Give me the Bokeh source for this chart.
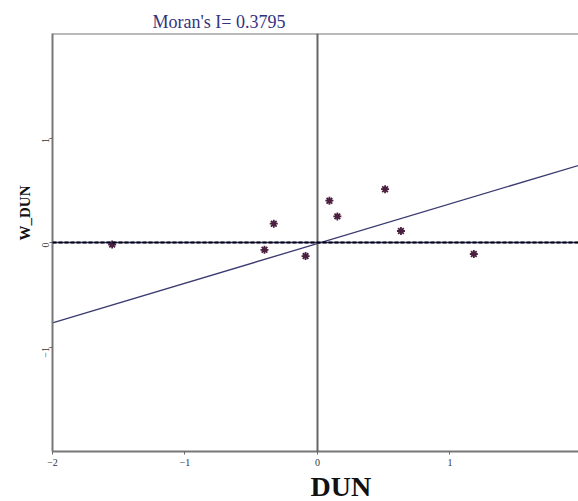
import math
from bokeh.plotting import figure
from bokeh.models import Range1d, Span, FixedTicker, Title
from bokeh.embed import file_html
from bokeh.resources import INLINE

# ---- data ----
dun = [-1.55, -0.33, -0.40, -0.09, 0.09, 0.15, 0.51, 0.63, 1.18]
w_dun = [-0.02, 0.18, -0.07, -0.13, 0.40, 0.25, 0.51, 0.11, -0.11]
moran_i = 0.3795
intercept = -0.01
x_ticks = [-2, -1, 0, 1, 2]
y_ticks = [-1, 0, 1]
title_text = "Moran's I= 0.3795"
x_label = "DUN"
y_label = "W_DUN"

p = figure(frame_width=526, frame_height=418, output_backend="svg", toolbar_location=None,
           x_range=Range1d(-2, 1.97), y_range=Range1d(-2, 2),
           min_border_left=52, min_border_right=0, min_border_top=33, min_border_bottom=20,
           title=Title(text=title_text, align="left", offset=100, standoff=3,
                       text_font="Liberation Serif", text_font_size="18px",
                       text_font_style="normal", text_color="#333380"))
p.outline_line_color = None
p.background_fill_color = "white"
p.border_fill_color = "white"
p.xgrid.visible = False
p.ygrid.visible = False

for ax in (p.xaxis[0], p.yaxis[0]):
    ax.axis_line_color = "#777777"
    ax.axis_line_width = 2
    ax.major_tick_line_color = "#666666"
    ax.major_tick_out = 3
    ax.major_tick_in = 0
    ax.minor_tick_line_color = None
    ax.major_label_text_font = "Liberation Serif"
    ax.major_label_text_font_size = "10px"
    ax.major_label_text_color = "#333333"
    ax.major_label_standoff = 4
p.xaxis.ticker = FixedTicker(ticks=x_ticks)
p.yaxis.ticker = FixedTicker(ticks=y_ticks)
p.yaxis.major_label_orientation = math.pi / 2

# top frame line
p.add_layout(Span(location=2, dimension="width", line_color="#777777", line_width=2))
# vertical zero line
p.add_layout(Span(location=0, dimension="height", line_color="#666666", line_width=2))
# horizontal zero line: navy under black dashes
p.add_layout(Span(location=0, dimension="width", line_color="#2a2a80", line_width=1.5))
p.add_layout(Span(location=0, dimension="width", line_color="black", line_width=2, line_dash="4 2"))

# regression line
xr = [-2, 1.97]
yr = [intercept + moran_i * v for v in xr]
p.line(xr, yr, line_color="#3a3a70", line_width=1.3)

# points
p.scatter(dun, w_dun, marker="asterisk", size=8, line_color="#4a1f3f", line_width=1.8)
p.scatter(dun, w_dun, marker="circle", size=4, fill_color="#4a1f3f", line_color=None)

# axis titles
p.add_layout(Title(text=x_label, align="left", offset=258, standoff=0,
                   text_font="Liberation Serif", text_font_size="28px", text_font_style="bold",
                   text_color="#111111"), "below")
p.add_layout(Title(text=y_label, align="left", offset=211, standoff=6,
                   text_font="Liberation Serif", text_font_size="15px", text_font_style="bold",
                   text_color="#111111"), "left")

open("out.html", "w").write(file_html(p, INLINE))
